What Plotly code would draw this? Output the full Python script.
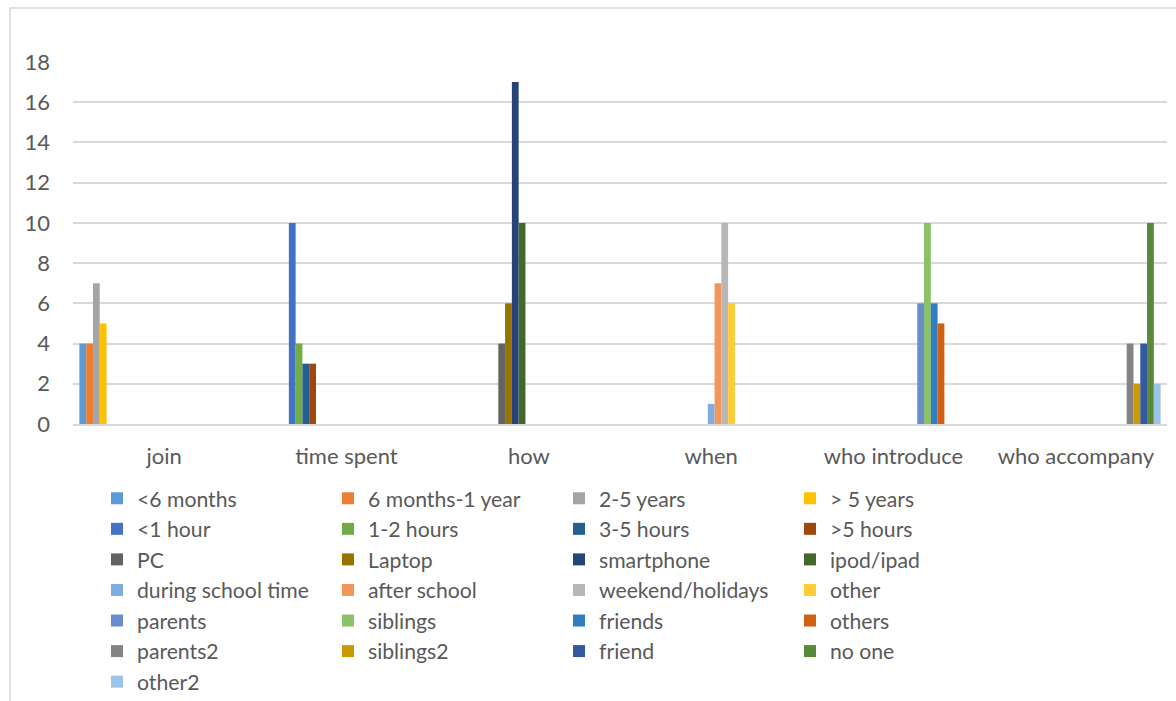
import plotly.graph_objects as go

# Survey question groups along the x axis
categories = ["join", "time spent", "how", "when", "who introduce", "who accompany"]

# Answer options and counts for each question
join_labels = ["<6 months", "6 months-1 year", "2-5 years", "> 5 years"]
join_counts = [4, 4, 7, 5]

time_labels = ["<1 hour", "1-2 hours", "3-5 hours", ">5 hours"]
time_counts = [10, 4, 3, 3]

how_labels = ["PC", "Laptop", "smartphone", "ipod/ipad"]
how_counts = [4, 6, 17, 10]

when_labels = ["during school time", "after school", "weekend/holidays", "other"]
when_counts = [1, 7, 10, 6]

intro_labels = ["parents", "siblings", "friends", "others"]
intro_counts = [6, 10, 6, 5]

accompany_labels = ["parents2", "siblings2", "friend", "no one", "other2"]
accompany_counts = [4, 2, 4, 10, 2]

# Office-style series palette, in series order
colors = [
    "#5B9BD5", "#ED7D31", "#A5A5A5", "#FFC000",
    "#4472C4", "#70AD47", "#255E91", "#9E480E",
    "#636363", "#997300", "#264478", "#43682B",
    "#7CAFDD", "#F1975A", "#B7B7B7", "#FFCD33",
    "#698ED0", "#8CC168", "#327DC2", "#D26012",
    "#848484", "#CC9A00", "#335AA1", "#5A8A39",
    "#9DC3E6",
]

groups = [
    (join_labels, join_counts),
    (time_labels, time_counts),
    (how_labels, how_counts),
    (when_labels, when_counts),
    (intro_labels, intro_counts),
    (accompany_labels, accompany_counts),
]

TEXT = "#595959"
GRID = "#D9D9D9"
FONT = "Lato"

fig = go.Figure()
k = 0
for gi, (labels, counts) in enumerate(groups):
    for name, count in zip(labels, counts):
        # each series only has a value in its own question group
        y = [0] * len(categories)
        y[gi] = count
        fig.add_trace(go.Bar(
            x=categories, y=y, name=name,
            marker=dict(color=colors[k], line=dict(width=0)),
        ))
        k += 1

W, H = 1176, 701
ml, mr, mt, mb = 73, 9, 62, 277
pw, ph = W - ml - mr, H - mt - mb


def px_x(p):
    return (p - ml) / pw


def px_y(p):
    return (H - mb - p) / ph


fig.update_layout(
    width=W, height=H, autosize=False,
    margin=dict(l=ml, r=mr, t=mt, b=mb, autoexpand=False),
    paper_bgcolor="white", plot_bgcolor="white",
    barmode="group", bargap=0.07, bargroupgap=0,
    font=dict(family=FONT, size=22, color=TEXT),
    showlegend=True,
    legend=dict(
        orientation="h",
        xref="container", yref="container",
        x=97 / W, xanchor="left",
        y=1 - 478 / H, yanchor="top",
        entrywidth=186, entrywidthmode="pixels",
        font=dict(family=FONT, size=21.2, color=TEXT),
        traceorder="normal",
        bgcolor="rgba(0,0,0,0)",
    ),
    xaxis=dict(
        showline=True, linecolor=GRID, linewidth=2,
        showgrid=False, ticks="", ticklabelstandoff=12,
        tickfont=dict(family=FONT, size=22, color=TEXT),
    ),
    yaxis=dict(
        range=[0, 18], dtick=2, showgrid=True, gridcolor=GRID, gridwidth=1.5,
        zeroline=False, showline=False, ticks="", ticklabelstandoff=22,
        tickfont=dict(family=FONT, size=22, color=TEXT),
    ),
    shapes=[
        # chart frame (top and left edges show; right/bottom run off the page)
        dict(type="rect", xref="paper", yref="paper",
             x0=px_x(10), x1=px_x(1190), y0=px_y(720), y1=px_y(8),
             line=dict(color=GRID, width=1.5), fillcolor="rgba(0,0,0,0)",
             layer="below"),
    ],
    annotations=[
        # tails of the body text line above the chart frame
        dict(text=",", xref="paper", yref="paper", x=px_x(593), y=px_y(-2),
             xanchor="center", yanchor="bottom", showarrow=False,
             font=dict(family="Liberation Serif", size=30, color="black")),
        dict(text="p", xref="paper", yref="paper", x=px_x(977), y=px_y(-2),
             xanchor="center", yanchor="bottom", showarrow=False,
             font=dict(family="Liberation Serif", size=30, color="black")),
    ],
)

fig.write_html("out.html")
